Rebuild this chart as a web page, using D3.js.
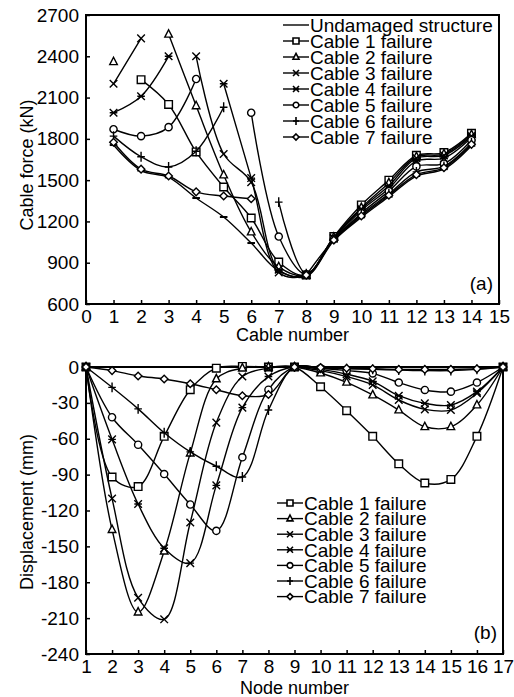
<!DOCTYPE html>
<html>
<head>
<meta charset="utf-8">
<script src="https://cdn.jsdelivr.net/npm/d3@7"></script>
<style>
    body { margin: 0; background: #fff; }
    text { font-family: "Liberation Sans", Arial, sans-serif; fill: #000; }
    .tick line { stroke: #000; stroke-width: 1.5; }
    .tick text { font-size: 19px; }
</style>
</head>
<body>
<script>
// (a) cable forces, cable 1..14, null = failed cable
var cableNumbers = [1, 2, 3, 4, 5, 6, 7, 8, 9, 10, 11, 12, 13, 14];
var cableTicks = [0, 1, 2, 3, 4, 5, 6, 7, 8, 9, 10, 11, 12, 13, 14, 15];
var forceTicks = [600, 900, 1200, 1500, 1800, 2100, 2400, 2700];

var forceUndamaged = [1755, 1570, 1520, 1370, 1232, 1043, 840, 800, 1060, 1230, 1380, 1530, 1580, 1750];
var forceCable1 = [null, 2230, 2050, 1705, 1450, 1225, 905, 810, 1090, 1320, 1500, 1680, 1700, 1840];
var forceCable2 = [2360, null, 2560, 2040, 1537, 1123, 870, 810, 1085, 1300, 1480, 1670, 1690, 1830];
var forceCable3 = [2200, 2530, null, 2400, 1690, 1485, 850, 810, 1080, 1290, 1460, 1660, 1680, 1820];
var forceCable4 = [1990, 2110, 2400, null, 2200, 1515, 830, 810, 1075, 1280, 1440, 1640, 1660, 1810];
var forceCable5 = [1870, 1820, 1885, 2235, null, 1990, 1090, 815, 1070, 1260, 1420, 1600, 1620, 1790];
var forceCable6 = [1820, 1670, 1596, 1710, 2030, null, 1340, 820, 1070, 1250, 1400, 1560, 1600, 1770];
var forceCable7 = [1775, 1580, 1530, 1415, 1385, 1365, null, 810, 1065, 1240, 1390, 1540, 1590, 1760];

// (b) displacements, node 1..17
var nodeNumbers = [1, 2, 3, 4, 5, 6, 7, 8, 9, 10, 11, 12, 13, 14, 15, 16, 17];
var dispTicks = [0, -30, -60, -90, -120, -150, -180, -210, -240];

var dispCable1 = [0, -92, -100, -58, -19, -1, 0.5, 0, 0, -16.5, -36.5, -58, -81, -97, -94, -58, 0];
var dispCable2 = [0, -136, -205, -154, -72, -10, -1, 0, 0, -5, -12.8, -23.4, -36, -50, -50, -31.8, 0];
var dispCable3 = [0, -110, -193, -211, -130, -46.5, -8, -1, 0, -3, -8, -15, -27.6, -35.4, -36, -22, 0];
var dispCable4 = [0, -60.5, -114.6, -151.6, -164, -99, -34, -8, 0, -2, -6, -12, -24, -30.4, -31.8, -20.6, 0];
var dispCable5 = [0, -42, -65, -89.5, -115, -137, -75.5, -19, 0, -1, -3, -5.3, -13, -19.2, -20.6, -13, 0];
var dispCable6 = [0, -17, -35, -55, -71, -83, -92, -36, 0, -1, -1.5, -2, -2.5, -3, -3, -2, 0];
var dispCable7 = [0, -3, -7.5, -10, -14, -19, -24, -23, 0, -0.5, -1, -1.5, -2, -2, -2, -1.5, 0];

var forceNames = ["Undamaged structure", "Cable 1 failure", "Cable 2 failure", "Cable 3 failure",
    "Cable 4 failure", "Cable 5 failure", "Cable 6 failure", "Cable 7 failure"];
var forceMarkers = ["dash", "square", "triangle", "cross", "star", "circle", "plus", "diamond"];
var dispNames = forceNames.slice(1);
var dispMarkers = forceMarkers.slice(1);

var forceSeries = [forceUndamaged, forceCable1, forceCable2, forceCable3,
    forceCable4, forceCable5, forceCable6, forceCable7];
var dispSeries = [dispCable1, dispCable2, dispCable3, dispCable4,
    dispCable5, dispCable6, dispCable7];

var svg = d3.select("body").append("svg")
    .attr("width", 514)
    .attr("height", 697);

function markerPath(type, x, y, s)
{
    if (type == "square") return "M" + (x - s) + "," + (y - s) + "h" + 2 * s + "v" + 2 * s + "h" + (-2 * s) + "Z";
    if (type == "triangle") return "M" + x + "," + (y - s * 1.2) + "L" + (x + s) + "," + (y + s * 0.75) + "L" + (x - s) + "," + (y + s * 0.75) + "Z";
    if (type == "cross") return "M" + (x - s) + "," + (y - s) + "L" + (x + s) + "," + (y + s) + "M" + (x - s) + "," + (y + s) + "L" + (x + s) + "," + (y - s);
    if (type == "star") return "M" + (x - s) + "," + (y - s) + "L" + (x + s) + "," + (y + s) + "M" + (x - s) + "," + (y + s) + "L" + (x + s) + "," + (y - s) + "M" + (x - s) + "," + y + "L" + (x + s) + "," + y;
    if (type == "circle") return "M" + (x + s) + "," + y + "A" + s + "," + s + " 0 1,1 " + (x - s) + "," + y + "A" + s + "," + s + " 0 1,1 " + (x + s) + "," + y;
    if (type == "plus") return "M" + (x - s) + "," + y + "L" + (x + s) + "," + y + "M" + x + "," + (y - s * 1.3) + "L" + x + "," + (y + s * 1.3);
    if (type == "diamond") return "M" + x + "," + (y - s) + "L" + (x + s) + "," + y + "L" + x + "," + (y + s) + "L" + (x - s) + "," + y + "Z";
    return "M" + (x - s) + "," + y + "L" + (x + s) + "," + y;
}

// plain hyphen for negatives, like the original
function plainFormat(d)
{
    return String(d);
}

function drawPanel(opt)
{
    var g = svg.append("g");
    var x = d3.scaleLinear().domain(opt.xDomain).range(opt.xRange);
    var y = d3.scaleLinear().domain(opt.yDomain).range(opt.yRange);

    // axes with inward ticks
    g.append("g")
        .attr("transform", "translate(0," + opt.yRange[0] + ")")
        .call(d3.axisBottom(x).tickValues(opt.xTicks).tickFormat(plainFormat)
            .tickSizeInner(-4).tickSizeOuter(0).tickPadding(6))
        .call(function (a) { a.select(".domain").remove(); });

    g.append("g")
        .attr("transform", "translate(" + opt.xRange[0] + ",0)")
        .call(d3.axisLeft(y).tickValues(opt.yTicks).tickFormat(plainFormat)
            .tickSizeInner(-4).tickSizeOuter(0).tickPadding(7))
        .call(function (a) { a.select(".domain").remove(); });

    g.selectAll(".tick text").attr("font-family", null);

    // frame
    g.append("rect")
        .attr("x", opt.xRange[0])
        .attr("y", opt.yRange[1])
        .attr("width", opt.xRange[1] - opt.xRange[0])
        .attr("height", opt.yRange[0] - opt.yRange[1])
        .attr("fill", "none")
        .attr("stroke", "#000")
        .attr("stroke-width", 2);

    var line = d3.line()
        .defined(function (d) { return d[1] != null; })
        .x(function (d) { return x(d[0]); })
        .y(function (d) { return y(d[1]); })
        .curve(d3.curveCatmullRom.alpha(0.5));

    opt.series.forEach(function (vals, i)
    {
        var pts = opt.xValues.map(function (c, j) { return [c, vals[j]]; });
        g.append("path")
            .attr("d", line(pts))
            .attr("fill", "none")
            .attr("stroke", "#000")
            .attr("stroke-width", 1.4);

        pts.filter(function (d) { return d[1] != null; }).forEach(function (d)
        {
            var type = opt.markers[i];
            g.append("path")
                .attr("d", markerPath(type, x(d[0]), y(d[1]), type == "circle" ? 3.6 : 3.8))
                .attr("fill", "#fff")
                .attr("fill-opacity", (type == "cross" || type == "star" || type == "plus" || type == "dash") ? 0 : 1)
                .attr("stroke", "#000")
                .attr("stroke-width", (type == "dash") ? 2 : 1.4);
        });
    });

    // legend
    var lg = g.append("g");
    opt.names.forEach(function (name, i)
    {
        var cy = opt.legendY + i * opt.legendStep;
        lg.append("line")
            .attr("x1", opt.legendX)
            .attr("x2", opt.legendX + 26)
            .attr("y1", cy)
            .attr("y2", cy)
            .attr("stroke", "#000")
            .attr("stroke-width", 1.4);
        if (opt.markers[i] != "dash")
        {
            var t = opt.markers[i];
            lg.append("path")
                .attr("d", markerPath(t, opt.legendX + 13, cy, t == "circle" ? 2.8 : 3))
                .attr("fill", "#fff")
                .attr("fill-opacity", (t == "cross" || t == "star" || t == "plus") ? 0 : 1)
                .attr("stroke", "#000")
                .attr("stroke-width", 1.6);
        }
        lg.append("text")
            .attr("x", opt.legendX + 27)
            .attr("y", cy + 6.8)
            .attr("font-size", 19)
            .text(name);
    });

    // titles
    g.append("text")
        .attr("x", (opt.xRange[0] + opt.xRange[1]) / 2)
        .attr("y", opt.xTitleY)
        .attr("text-anchor", "middle")
        .attr("font-size", 18)
        .text(opt.xTitle);

    g.append("text")
        .attr("transform", "translate(33," + opt.yTitleY + ") rotate(-90)")
        .attr("text-anchor", "middle")
        .attr("font-size", 18)
        .text(opt.yTitle);

    g.append("text")
        .attr("x", opt.xRange[1] - 6)
        .attr("y", opt.tagY)
        .attr("text-anchor", "end")
        .attr("font-size", 19)
        .text(opt.tag);
}

drawPanel({
    xDomain: [0, 15], xRange: [86, 499],
    yDomain: [600, 2700], yRange: [304, 15],
    xTicks: cableTicks, yTicks: forceTicks,
    xValues: cableNumbers, series: forceSeries,
    markers: forceMarkers, names: forceNames,
    legendX: 283, legendY: 25, legendStep: 16,
    xTitle: "Cable number", xTitleY: 341,
    yTitle: "Cable force (kN)", yTitleY: 165,
    tag: "(a)", tagY: 290
});

drawPanel({
    xDomain: [1, 17], xRange: [86, 503],
    yDomain: [-240, 0], yRange: [654, 367],
    xTicks: nodeNumbers, yTicks: dispTicks,
    xValues: nodeNumbers, series: dispSeries,
    markers: dispMarkers, names: dispNames,
    legendX: 277, legendY: 503, legendStep: 15.6,
    xTitle: "Node number", xTitleY: 694,
    yTitle: "Displacement (mm)", yTitleY: 512,
    tag: "(b)", tagY: 639
});
</script>
</body>
</html>
